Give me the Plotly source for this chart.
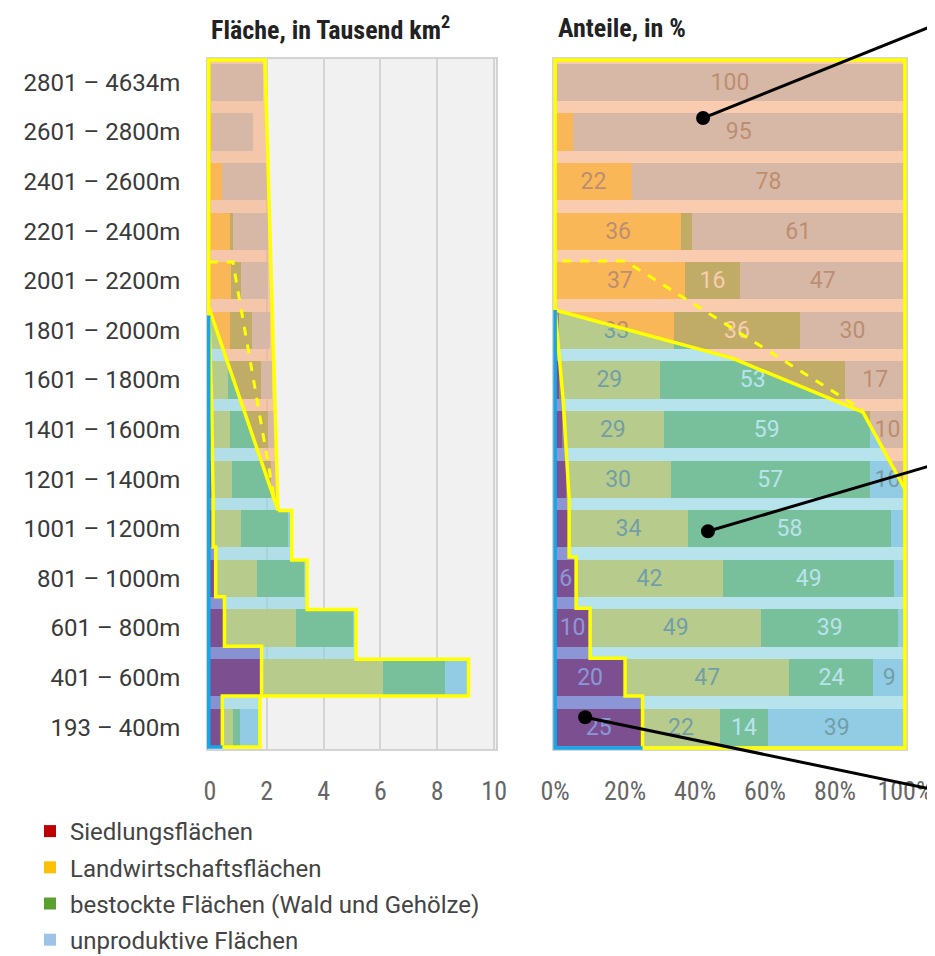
import plotly.graph_objects as go

# ---------------- data ----------------
bands = ["193 – 400m", "401 – 600m", "601 – 800m", "801 – 1000m", "1001 – 1200m",
         "1201 – 1400m", "1401 – 1600m", "1601 – 1800m", "1801 – 2000m", "2001 – 2200m",
         "2201 – 2400m", "2401 – 2600m", "2601 – 2800m", "2801 – 4634m"]
# total area per altitude band, thousand km2
total_area = [1.76, 9.10, 5.14, 3.42, 2.88, 2.40, 2.29, 2.17, 2.10, 2.05, 2.05, 2.00, 1.52, 1.87]
# shares in %
share_siedlung = [25, 20, 10, 6, 4, 3, 2, 1, 1, 0, 0, 0, 0, 0]
share_landw = [22, 47, 49, 42, 34, 30, 29, 29, 33, 37, 36, 22, 5, 0]
share_bestockt = [14, 24, 39, 49, 58, 57, 59, 53, 36, 16, 3, 0, 0, 0]
share_unprod = [39, 9, 2, 3, 4, 10, 10, 17, 30, 47, 61, 78, 95, 100]

series_names = ["Siedlungsflächen", "Landwirtschaftsflächen",
                "bestockte Flächen (Wald und Gehölze)", "unproduktive Flächen"]
x1_ticks = [0, 2, 4, 6, 8, 10]
x2_ticks = [0, 20, 40, 60, 80, 100]
x2_ticktext = ["0%", "20%", "40%", "60%", "80%", "100%"]

# ---------------- styles ----------------
series_colors = ["#c00000", "#ffc000", "#5aa02c", "#9dc3e6"]
label_colors = ["#ffffff", "#4a4a4a", "#ffffff", "#4a4a4a"]
PEACH = "rgba(246,178,133,0.66)"
CYAN = "rgba(139,210,226,0.62)"
PURPLE = "rgba(95,110,200,0.72)"
YEL = "#ffff00"
BLUE = "#19a5e6"
NARROW = "Liberation Sans Narrow, Arial Narrow, Roboto Condensed, Roboto, sans-serif"

OFF = 8  # page body margin
W, H = 935 - OFF, 956 - OFF
ML, MR, MT, MB = 207 - OFF, 28, 58 - OFF, 206
PW = W - ML - MR
PH = H - MT - MB
xdom1 = [0, 290 / PW]
xdom2 = [346 / PW, 1]
xr1 = [-0.1, 10.1]
xr2 = [-0.6, 100.6]
yr = [-0.46, 13.49]
BW = 0.75
HB = 0.37
LABEL_MIN = 6


def sx(s):  # screen px -> paper x
    return (s - OFF - ML) / PW


def sy(s):  # screen px -> paper y
    return (H - MB - (s - OFF)) / PH


rows = list(range(len(bands)))
shares = [share_siedlung, share_landw, share_bestockt, share_unprod]
areas = [[t * s / 100 for t, s in zip(total_area, sh)] for sh in shares]
sa = areas[0]
sp = share_siedlung

fig = go.Figure()
for k in range(4):
    fig.add_trace(go.Bar(
        y=rows, x=areas[k], orientation="h", name=series_names[k],
        marker=dict(color=series_colors[k], line=dict(width=0)), width=BW,
        xaxis="x", yaxis="y", legendgroup=str(k), hoverinfo="skip"))
for k in range(4):
    txt = [str(v) if v >= LABEL_MIN else " " for v in shares[k]]
    fig.add_trace(go.Bar(
        y=rows, x=shares[k], orientation="h", name=series_names[k], showlegend=False,
        marker=dict(color=series_colors[k], line=dict(width=0)), width=BW,
        xaxis="x2", yaxis="y", text=txt, textposition="inside",
        insidetextanchor="middle", textangle=0,
        textfont=dict(family="Roboto", size=23, color=label_colors[k]),
        hoverinfo="skip"))


def svg(pts, close=True):
    s = "M " + " L ".join(f"{x:.4f},{y:.4f}" for x, y in pts)
    return s + (" Z" if close else "")


shapes = []


def poly(pts, xref, fill):
    shapes.append(dict(type="path", path=svg(pts), xref=xref, yref="y",
                       fillcolor=fill, line=dict(width=0), layer="above"))


def line(pts, xref, color, width=3.5, dash="solid"):
    shapes.append(dict(type="path", path=svg(pts, False), xref=xref, yref="y",
                       line=dict(color=color, width=width, dash=dash), layer="above"))


# panel frames
for xr in ["x domain", "x2 domain"]:
    shapes.append(dict(type="rect", xref=xr, yref="y domain", x0=0, x1=1, y0=0, y1=1,
                       fillcolor="#f1f1f1" if xr == "x domain" else "#ffffff",
                       line=dict(color="#c6c6c6", width=1.5), layer="below"))

# ---------- left panel overlays ----------
top = 13.45
L0 = -0.04
solidL = [(L0, 8.47), (total_area[5], 4.37)]
peachL = [(L0, 8.47), (L0, top), (1.94, top), (total_area[5], 4.37)]
stepL = [(total_area[5], 4.37), (total_area[4], 4.37), (total_area[4], 3 + HB),
         (total_area[3], 3 + HB), (total_area[3], 2 + HB), (total_area[2], 2 + HB),
         (total_area[2], 1 + HB), (total_area[1], 1 + HB), (total_area[1], 1 - HB),
         (sa[1], 1 - HB)]
purpL_b = [(sa[1], 1 - HB), (sa[1], 2 - HB), (sa[2], 2 - HB), (sa[2], 3 - HB),
           (sa[3], 3 - HB), (sa[3], 4 - HB), (sa[4], 4 - HB), (sa[4], 5 - HB),
           (0.06, 6.6), (L0, 8.47)]
greenL = solidL + stepL[1:] + purpL_b[1:]
rect0L = [(sa[0], -HB - 0.03), (total_area[0], -HB - 0.03), (total_area[0], 1 - HB),
          (sa[0], 1 - HB)]
purpleL = [(L0, -0.4), (sa[0], -0.4), (sa[0], 1 - HB)] + purpL_b
poly(peachL, "x", PEACH)
poly(greenL, "x", CYAN)
poly(rect0L, "x", CYAN)
poly(purpleL, "x", PURPLE)
line(peachL, "x", YEL)
line(solidL, "x", YEL)
line(stepL, "x", YEL)
line(purpL_b, "x", YEL)
line(rect0L + [rect0L[0]], "x", YEL)
line([(L0, 8.3), (L0, -0.4), (sa[0], -0.4)], "x", BLUE)
line([(L0, 9.38), (0.81, 9.38), (2.3, 4.5)], "x", YEL, 3, "dash")

# ---------- right panel overlays ----------
B = -0.42
solidR = [(0, 8.41), (50.6, 7.44), (88, 6.35), (100, 4.8)]
peachR = [(0, 8.41), (0, top), (100, top)] + solidR[::-1][:-1]
purpR_edges = [0.63, 1.39, 2.4, 3.43, 4.63]
purpR_b = [(sp[0], B)]
for i, e in enumerate(purpR_edges):
    purpR_b.append((sp[i], e))
    if i + 1 < len(purpR_edges):
        purpR_b.append((sp[i + 1], e))
purpR_b += [(2.3, 6.6), (0, 8.41)]
greenR = solidR + [(100, B)] + purpR_b
purpleR = [(0, B)] + purpR_b
poly(peachR, "x2", PEACH)
poly(greenR, "x2", CYAN)
poly(purpleR, "x2", PURPLE)
line([(0, 8.41), (0, top), (100, top), (100, B), (sp[0], B)], "x2", YEL)
line(purpR_b, "x2", YEL)
line(solidR, "x2", YEL)
line([(0, 8.41), (0, B), (sp[0], B)], "x2", BLUE)
line([(2, 9.4), (20, 9.4), (88, 6.39)], "x2", YEL, 3, "dash")


# ---------- call-out lines with dots ----------
def px2(x):
    return xdom2[0] + (x - xr2[0]) / (xr2[1] - xr2[0]) * (xdom2[1] - xdom2[0])


def py(y):
    return (y - yr[0]) / (yr[1] - yr[0])


callouts = [((42.3, 12.28), (sx(950), sy(19))),
            ((43.7, 3.95), (sx(950), sy(460))),
            ((8.6, 0.2), (sx(950), sy(793)))]
for (dx, dy), (ex, ey) in callouts:
    shapes.append(dict(type="line", xref="paper", yref="paper", x0=px2(dx), y0=py(dy),
                       x1=ex, y1=ey, line=dict(color="#000000", width=3), layer="above"))
    shapes.append(dict(type="circle", xref="x2", yref="y", xsizemode="pixel",
                       ysizemode="pixel", xanchor=dx, yanchor=dy, x0=-7, x1=7, y0=-7, y1=7,
                       fillcolor="#000000", line=dict(width=0), layer="above"))

annotations = [
    dict(text="<b>Fläche, in Tausend km<sup>2</sup></b>", xref="paper", yref="paper",
         x=sx(209), y=sy(28), xanchor="left", yanchor="middle", showarrow=False,
         font=dict(family=NARROW, size=26, color="#222")),
    dict(text="<b>Anteile, in %</b>", xref="paper", yref="paper",
         x=sx(556), y=sy(28), xanchor="left", yanchor="middle", showarrow=False,
         font=dict(family=NARROW, size=26, color="#222")),
]

fig.update_layout(
    width=W, height=H, margin=dict(l=ML, r=MR, t=MT, b=MB, autoexpand=False),
    paper_bgcolor="#ffffff", plot_bgcolor="#ffffff",
    barmode="stack", bargap=0.25,
    shapes=shapes, annotations=annotations,
    xaxis=dict(domain=xdom1, range=xr1, tickvals=x1_ticks, ticks="outside", ticklen=18,
               tickcolor="rgba(0,0,0,0)", showgrid=True, gridcolor="#d4d4d4",
               gridwidth=1.5, zeroline=False, showline=False, anchor="y",
               automargin=False, tickfont=dict(family=NARROW, size=26, color="#666")),
    xaxis2=dict(domain=xdom2, range=xr2, tickvals=x2_ticks, ticktext=x2_ticktext,
                ticks="outside", ticklen=18, tickcolor="rgba(0,0,0,0)", showgrid=False,
                zeroline=False, showline=False, anchor="y", automargin=False,
                tickfont=dict(family=NARROW, size=26, color="#666")),
    yaxis=dict(domain=[0, 1], range=yr, tickvals=rows, ticktext=bands, ticks="outside",
               ticklen=21, tickcolor="rgba(0,0,0,0)", showgrid=False, zeroline=False,
               showline=False, anchor="x", automargin=False,
               tickfont=dict(family="Roboto", size=24, color="#3a3a3a")),
    legend=dict(x=sx(30), xanchor="left", y=sy(809), yanchor="top",
                font=dict(family="Roboto", size=24, color="#444"), tracegroupgap=2,
                bgcolor="rgba(0,0,0,0)", traceorder="grouped"),
    showlegend=True,
)

fig.write_html("out.html")
